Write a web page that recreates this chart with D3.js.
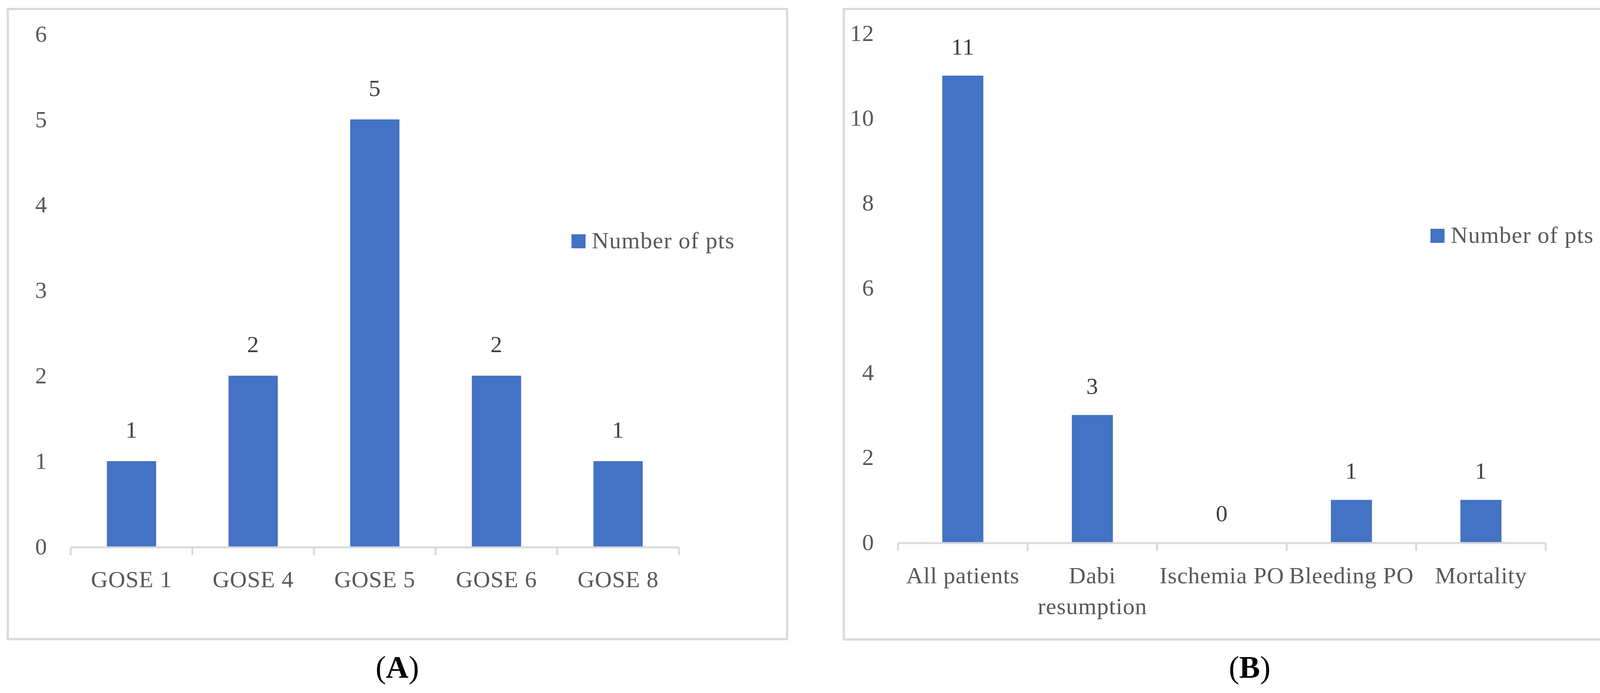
<!DOCTYPE html>
<html>
<head>
<meta charset="utf-8">
<script src="https://cdn.jsdelivr.net/npm/d3@7"></script>
<style>
  html, body { margin: 0; padding: 0; background: #fff; }
  svg { display: block; }
  text { font-family: "Liberation Serif", "DejaVu Serif", serif; }
</style>
</head>
<body>
<script>
// ---- data ----
const catsA = ["GOSE 1", "GOSE 4", "GOSE 5", "GOSE 6", "GOSE 8"];
const valsA = [1, 2, 5, 2, 1];
const ticksA = [0, 1, 2, 3, 4, 5, 6];

const catsB = ["All patients", "Dabi resumption", "Ischemia PO", "Bleeding PO", "Mortality"];
const valsB = [11, 3, 0, 1, 1];
const ticksB = [0, 2, 4, 6, 8, 10, 12];

const seriesName = "Number of pts";
const captionLetters = ["A", "B"];

// ---- drawing ----
const W = 4249, H = 1775;
const svg = d3.select("body").append("svg").attr("width", W).attr("height", H);
svg.append("rect").attr("width", W).attr("height", H).attr("fill", "#fff");

const BAR = "#4472C4", GRID = "#d9d9d9", LABEL = "#595959", VAL = "#404040";
const FS = 60;

function panel(o) {
  const g = svg.append("g");
  // frame
  g.append("rect").attr("x", o.frame[0]).attr("y", o.frame[1])
    .attr("width", o.frame[2]).attr("height", o.frame[3])
    .attr("fill", "none").attr("stroke", GRID).attr("stroke-width", 5.5);

  const x = d3.scaleBand().domain(o.cats).range([o.x0, o.x1])
    .paddingInner(o.pad).paddingOuter(o.pad / 2);
  const y = d3.scaleLinear().domain([0, d3.max(o.ticks)]).range([o.y0, o.y1]);

  // y axis labels
  const ya = d3.axisLeft(y).tickValues(o.ticks).tickFormat(d3.format("d"))
    .tickSize(0).tickPadding(o.x0 - o.labelRight);
  const yg = g.append("g").attr("transform", `translate(${o.x0},0)`).call(ya);
  yg.select(".domain").remove();
  yg.selectAll("text").attr("font-size", FS).attr("fill", LABEL)
    .attr("font-family", "Liberation Serif").attr("letter-spacing", 1);

  // bars
  g.selectAll(".bar").data(o.vals).join("rect")
    .attr("x", (d, i) => x(o.cats[i]))
    .attr("y", d => y(d))
    .attr("width", x.bandwidth())
    .attr("height", d => y(0) - y(d))
    .attr("fill", BAR);

  // axis line + ticks between categories
  const base = y(0) + 2;
  g.append("line").attr("x1", o.x0).attr("x2", o.x1).attr("y1", base).attr("y2", base)
    .attr("stroke", GRID).attr("stroke-width", 5);
  d3.range(o.cats.length + 1).forEach(i => {
    const tx = o.x0 + i * x.step();
    g.append("line").attr("x1", tx).attr("x2", tx).attr("y1", base).attr("y2", base + 20)
      .attr("stroke", GRID).attr("stroke-width", 5);
  });

  // value labels
  g.selectAll(".val").data(o.vals).join("text")
    .attr("x", (d, i) => x(o.cats[i]) + x.bandwidth() / 2)
    .attr("y", d => y(d) - o.valGap)
    .attr("text-anchor", "middle").attr("font-size", FS).attr("fill", VAL)
    .attr("letter-spacing", 1)
    .text(d => d);

  // category labels (wrap if wider than slot)
  o.cats.forEach((c, i) => {
    const cx = x(c) + x.bandwidth() / 2;
    const t = g.append("text").attr("x", cx).attr("y", o.catY)
      .attr("text-anchor", "middle").attr("font-size", FS).attr("fill", LABEL)
      .attr("letter-spacing", 1).text(c);
    if (t.node().getComputedTextLength() > x.step() * 1.0 && c.includes(" ")) {
      t.text(null);
      const words = c.split(" ");
      words.forEach((w, k) => {
        t.append("tspan").attr("x", cx).attr("dy", k === 0 ? 0 : 79).text(w);
      });
    }
  });

  // legend
  g.append("rect").attr("x", o.leg[0]).attr("y", o.leg[1]).attr("width", 36).attr("height", 36)
    .attr("fill", BAR);
  g.append("text").attr("x", o.leg[0] + 52).attr("y", o.leg[1] + 36)
    .attr("font-size", FS).attr("fill", LABEL).attr("letter-spacing", 1.5).text(seriesName);

  // caption
  const cap = svg.append("text").attr("x", o.capX).attr("y", 1736)
    .attr("text-anchor", "middle").attr("font-size", 80).attr("fill", "#000");
  cap.append("tspan").text("(");
  cap.append("tspan").attr("font-weight", "bold").text(o.letter);
  cap.append("tspan").text(")");
}

panel({
  frame: [20, 23, 1995, 1614],
  cats: catsA, vals: valsA, ticks: ticksA,
  x0: 181, x1: 1738, y0: 1400, y1: 87, pad: 0.595,
  labelRight: 121, valGap: 60, catY: 1504,
  leg: [1463, 600], capX: 1017, letter: captionLetters[0]
});

panel({
  frame: [2160, 23, 2067, 1615],
  cats: catsB, vals: valsB, ticks: ticksB,
  x0: 2299, x1: 3957, y0: 1389, y1: 85, pad: 0.683,
  labelRight: 2238, valGap: 54, catY: 1494,
  leg: [3662, 586], capX: 3199, letter: captionLetters[1]
});
</script>
</body>
</html>
